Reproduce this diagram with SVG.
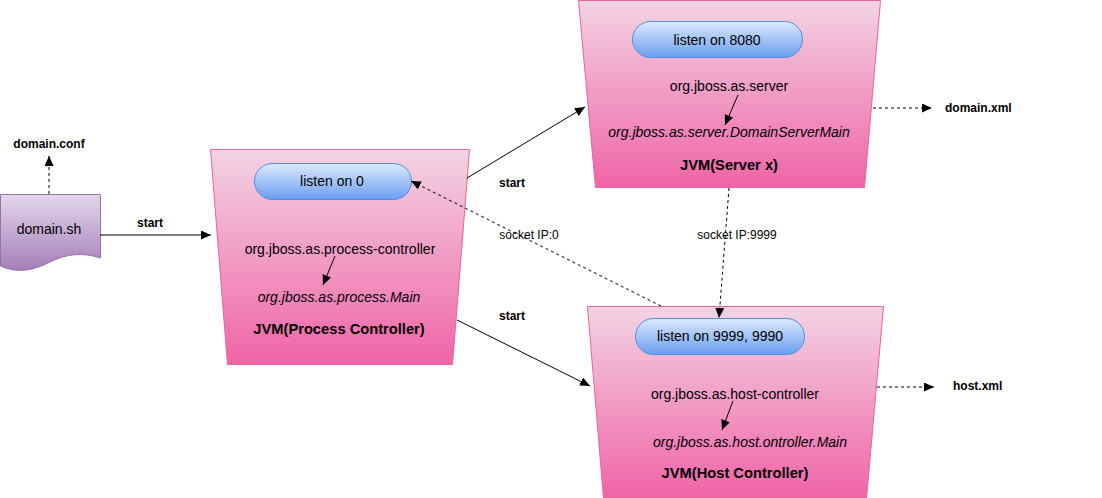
<svg xmlns="http://www.w3.org/2000/svg" width="1102" height="498" viewBox="0 0 1102 498">
<defs>
<linearGradient id="pink" x1="0" y1="0" x2="0" y2="1">
<stop offset="0" stop-color="#f2d3e3"/>
<stop offset="1" stop-color="#f064a6"/>
</linearGradient>
<linearGradient id="blue" x1="0" y1="0" x2="0" y2="1">
<stop offset="0" stop-color="#dde9fd"/>
<stop offset="1" stop-color="#6a9ef0"/>
</linearGradient>
<linearGradient id="purple" x1="0" y1="0" x2="0" y2="1">
<stop offset="0" stop-color="#e3d6e9"/>
<stop offset="1" stop-color="#a47fb9"/>
</linearGradient>
<marker id="arr" markerUnits="userSpaceOnUse" markerWidth="12" markerHeight="10" refX="10" refY="4.5" orient="auto">
<path d="M0,0 L10,4.5 L0,9 z" fill="#000"/>
</marker>
</defs>
<style>
text{font-family:"Liberation Sans",Arial,sans-serif;fill:#000}
.t{font-size:14px;text-anchor:middle}
.i{font-size:14px;font-style:italic;text-anchor:middle}
.b{font-size:14.7px;font-weight:bold;text-anchor:middle}
.s{font-size:12px;font-weight:bold}
.n{font-size:12px;text-anchor:middle}
.trap{fill:url(#pink);stroke:#e5649f;stroke-width:1}
.pill{fill:url(#blue);stroke:#4f8fe6;stroke-width:1}
.line{stroke:#000;stroke-width:1;fill:none;marker-end:url(#arr)}
.dash{stroke:#000;stroke-width:1;fill:none;stroke-dasharray:3,3;marker-end:url(#arr)}
</style>

<g id="domain-sh">
<path d="M0.5,194.5 H100.5 V258 C82,252 66,254 50,262 C34,270 18,274 0.5,266 Z" fill="url(#purple)" stroke="#9a6fb0" stroke-width="1"/>
<text class="t" x="49" y="234">domain.sh</text>
</g>

<g id="domain-conf">
<text class="s" x="49" y="148" text-anchor="middle">domain.conf</text>
</g>

<g id="process-controller">
<path class="trap" d="M210.5,149.5 H469.5 L452.5,364.5 H227.5 Z"/>
<rect class="pill" x="254.5" y="163.5" width="157" height="36" rx="18"/>
<text class="t" x="332" y="186">listen on 0</text>
<text class="t" x="340" y="254">org.jboss.as.process-controller</text>
<line class="line" x1="335" y1="256" x2="323" y2="285"/>
<text class="i" x="339" y="302">org.jboss.as.process.Main</text>
<text class="b" x="339" y="334">JVM(Process Controller)</text>
</g>

<g id="server-x">
<path class="trap" d="M578.5,0.5 H880.5 L864.5,187.5 H595.5 Z"/>
<rect class="pill" x="632.5" y="21.5" width="170" height="36" rx="18"/>
<text class="t" x="717" y="45">listen on 8080</text>
<text class="t" x="729" y="91">org.jboss.as.server</text>
<line class="line" x1="738" y1="95" x2="725" y2="125"/>
<text class="i" x="729" y="137">org.jboss.as.server.DomainServerMain</text>
<text class="b" x="729" y="170">JVM(Server x)</text>
</g>

<g id="host-controller">
<path class="trap" d="M587.5,306.5 H883.5 L866.5,498.5 H603.5 Z"/>
<rect class="pill" x="635.5" y="318.5" width="169" height="36" rx="18"/>
<text class="t" x="720" y="341">listen on 9999, 9990</text>
<text class="t" x="735" y="399">org.jboss.as.host-controller</text>
<line class="line" x1="733" y1="401" x2="722" y2="430"/>
<text class="i" x="750" y="447">org.jboss.as.host.ontroller.Main</text>
<text class="b" x="735" y="478">JVM(Host Controller)</text>
</g>

<g id="domain-xml">
<text class="s" x="945" y="112">domain.xml</text>
</g>
<g id="host-xml">
<text class="s" x="953" y="390">host.xml</text>
</g>

<g id="connectors">
<line class="dash" x1="49" y1="194" x2="49" y2="156"/>
<line class="line" x1="100" y1="235" x2="211" y2="235"/>
<text class="s" x="150" y="227" text-anchor="middle">start</text>

<line class="line" x1="467" y1="178" x2="585" y2="107"/>
<text class="s" x="512" y="187" text-anchor="middle">start</text>

<line class="line" x1="457" y1="320" x2="590" y2="386"/>
<text class="s" x="512" y="320" text-anchor="middle">start</text>

<line class="dash" x1="661" y1="306" x2="411" y2="181"/>
<text class="n" x="529" y="239">socket IP:0</text>

<line class="dash" x1="729" y1="188" x2="719" y2="318"/>
<text class="n" x="737" y="239">socket IP:9999</text>

<line class="dash" x1="873" y1="108" x2="932" y2="108"/>
<line class="dash" x1="877" y1="387" x2="934" y2="387"/>
</g>
</svg>
